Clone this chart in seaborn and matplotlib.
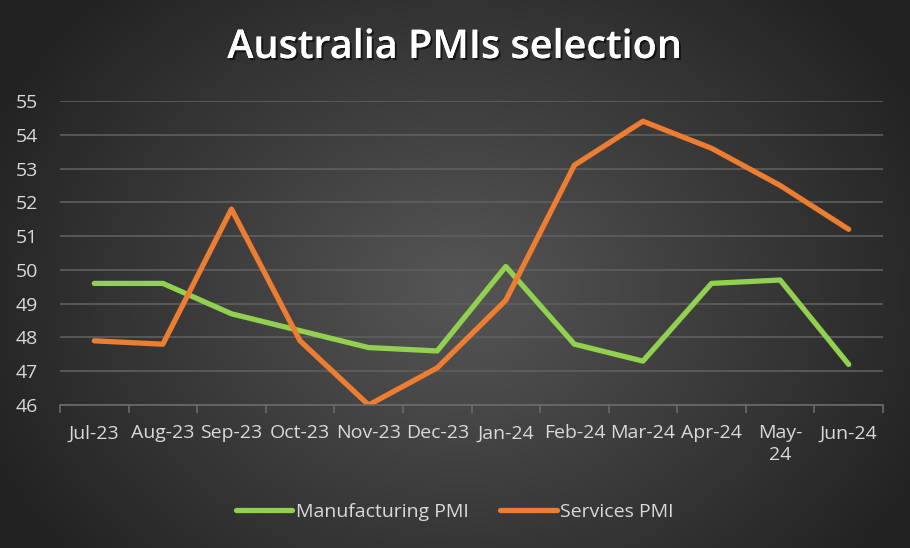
import numpy as np
import pandas as pd
import matplotlib
matplotlib.use("Agg")
import matplotlib.pyplot as plt
import matplotlib.patheffects as pe
from matplotlib.lines import Line2D
import seaborn as sns

months = ["Jul-23", "Aug-23", "Sep-23", "Oct-23", "Nov-23", "Dec-23",
          "Jan-24", "Feb-24", "Mar-24", "Apr-24", "May-24", "Jun-24"]
tick_labels = ["Jul-23", "Aug-23", "Sep-23", "Oct-23", "Nov-23", "Dec-23",
               "Jan-24", "Feb-24", "Mar-24", "Apr-24", "May-\n24", "Jun-24"]
manufacturing = [49.6, 49.6, 48.7, 48.2, 47.7, 47.6, 50.1, 47.8, 47.3, 49.6, 49.7, 47.2]
services = [47.9, 47.8, 51.8, 47.9, 46.0, 47.1, 49.1, 53.1, 54.4, 53.6, 52.5, 51.2]
series_names = ["Manufacturing PMI", "Services PMI"]
colors = ["#92d050", "#ed7d31"]

df = pd.DataFrame({
    "idx": list(range(len(months))) * 2,
    "value": manufacturing + services,
    "series": [series_names[0]] * len(months) + [series_names[1]] * len(months),
})

sns.set_theme(style="dark")
plt.rcParams["font.family"] = ["Open Sans", "DejaVu Sans"]

W, H = 910, 548
fig = plt.figure(figsize=(W / 100, H / 100), dpi=100)

# radial gradient background
bg = fig.add_axes([0, 0, 1, 1], zorder=-10)
yy, xx = np.mgrid[0:H, 0:W]
r = np.sqrt(((xx - 460) / 520.0) ** 2 + ((yy - 290) / 420.0) ** 2)
r = np.clip(r, 0, 1)
c0 = np.array([0x56, 0x56, 0x56]) / 255.0
c1 = np.array([0x22, 0x22, 0x22]) / 255.0
img = c0[None, None, :] * (1 - r[..., None]) + c1[None, None, :] * r[..., None]
bg.imshow(img, aspect="auto", extent=[0, 1, 0, 1], origin="upper")
bg.set_axis_off()

ax = fig.add_axes([60 / W, 1 - 405 / H, (883 - 60) / W, (405 - 101) / H])
ax.set_facecolor("none")
ax.patch.set_alpha(0)

sns.lineplot(data=df, x="idx", y="value", hue="series", palette=colors,
             linewidth=3.8, ax=ax, legend=False, sort=False)
for ln in ax.get_lines():
    ln.set_solid_capstyle("round")
    ln.set_solid_joinstyle("round")

ax.set_xlim(-0.5, len(months) - 0.5)
ax.set_ylim(46, 55)
ax.set_yticks(range(46, 56))
ax.grid(axis="y", color="#5f5f5f", linewidth=1.2)
ax.grid(axis="x", visible=False)
ax.set_axisbelow(True)
for s in ["top", "right", "left"]:
    ax.spines[s].set_visible(False)
ax.spines["bottom"].set_color("#6a6a6a")
ax.spines["bottom"].set_linewidth(1.2)

FS = 14
ax.set_xticks(range(len(months)))
ax.set_xticklabels(tick_labels, color="#d9d9d9", fontsize=FS, linespacing=1.25)
ax.set_xticks(np.arange(-0.5, len(months), 1.0), minor=True)
ax.tick_params(axis="x", which="major", length=0, pad=14)
ax.tick_params(axis="x", which="minor", length=6, color="#6a6a6a", width=1.2, direction="out", bottom=True)
ax.tick_params(axis="y", length=0, labelcolor="#d9d9d9", labelsize=FS, pad=32)
for t in ax.get_yticklabels():
    t.set_horizontalalignment("left")
ax.set_xlabel("")
ax.set_ylabel("")

fig.text(0.5, 1 - 48 / H, "Australia PMIs selection", ha="center", va="center",
         color="white", fontsize=28.5, fontweight="semibold",
         path_effects=[pe.withSimplePatchShadow(offset=(1.5, -1.5), shadow_rgbFace="black", alpha=0.6), pe.Normal()])

handles = [Line2D([0], [0], color=c, linewidth=3.8, solid_capstyle="round") for c in colors]
leg = fig.legend(handles, series_names, loc="center", bbox_to_anchor=(0.5, 1 - 512 / H),
                 ncol=2, frameon=False, fontsize=FS, handlelength=2.9, handletextpad=0.2,
                 columnspacing=1.6)
for t in leg.get_texts():
    t.set_color("#d9d9d9")

fig.savefig("out.png", dpi=100)
